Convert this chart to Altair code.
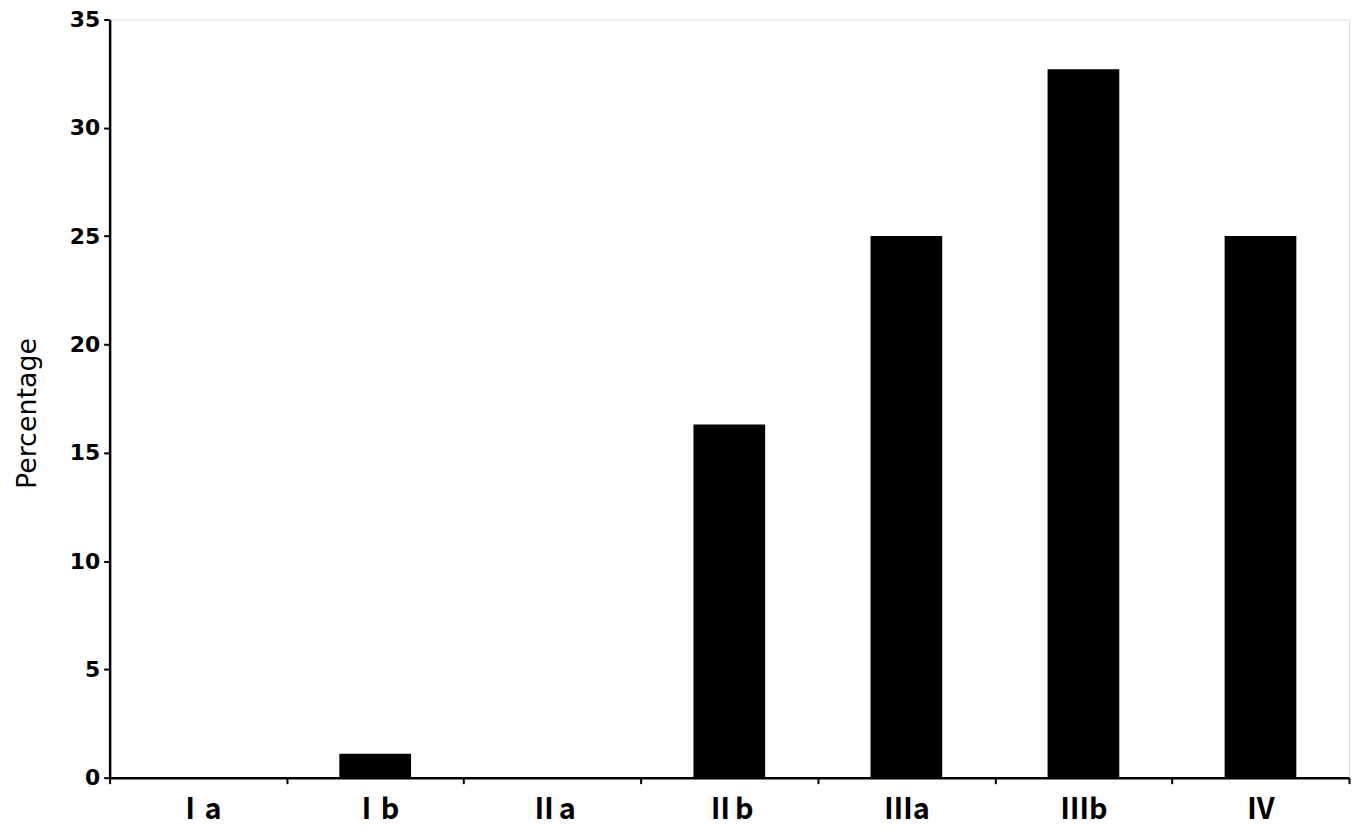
import altair as alt
import pandas as pd

categories = ["Ⅰa", "Ⅰb", "Ⅱa", "Ⅱb", "Ⅲa", "Ⅲb", "Ⅳ"]
percentages = [0, 1.1, 0, 16.3, 25, 32.7, 25]
y_ticks = [0, 5, 10, 15, 20, 25, 30, 35]

df = pd.DataFrame({"stage": categories, "pct": percentages})

chart = alt.Chart(df).mark_bar(
    color="black", width=alt.RelativeBandSize(0.405)
).encode(
    x=alt.X(
        "stage:N",
        sort=categories,
        scale=alt.Scale(paddingInner=0, paddingOuter=0),
        axis=alt.Axis(
            title=None,
            labelAngle=0,
            tickBand="extent",
            labelFont="Noto Sans CJK SC",
            labelFontWeight="bold",
            labelFontSize=29,
            labelColor="black",
            labelPadding=12,
            tickSize=6,
            tickWidth=2,
            tickColor="black",
            domainColor="black",
            domainWidth=2.5,
            grid=False,
        ),
    ),
    y=alt.Y(
        "pct:Q",
        scale=alt.Scale(domain=[0, 35], nice=False),
        axis=alt.Axis(
            title="Percentage",
            values=y_ticks,
            titleFont="DejaVu Sans",
            titleFontWeight="normal",
            titleFontSize=27,
            titleColor="black",
            titleX=-82,
            titleY=395,
            titleBaseline="middle",
            titleAngle=270,
            labelFont="DejaVu Sans",
            labelFontWeight="bold",
            labelFontSize=22,
            labelColor="black",
            labelPadding=4,
            tickSize=6,
            tickWidth=2,
            tickColor="black",
            domainColor="black",
            domainWidth=2.5,
            grid=False,
        ),
    ),
).properties(
    width=1244,
    height=761,
    autosize=alt.AutoSizeParams(type="none"),
    padding={"left": 102, "top": 10, "right": 2, "bottom": 52},
).configure_view(stroke=None).configure(background="white")

chart.save("out.html", embed_options={"renderer": "svg", "actions": False})
